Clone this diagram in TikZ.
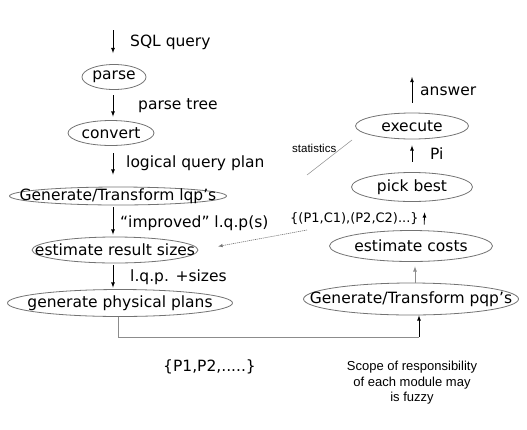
\documentclass[tikz,border=0pt]{standalone}
\usepackage{fontspec}
\setmainfont{DejaVu Sans}
\newfontfamily\notefont{Liberation Sans}
\usetikzlibrary{positioning}
\usetikzlibrary{shapes.geometric}
\usetikzlibrary{arrows}

\begin{document}
\begin{tikzpicture}[x=1pt, y=-1pt,
    stage/.style={
        ellipse, draw=black!55,
        line width=0.8pt,
        inner sep=0pt
    },
    stage text/.style={inner sep=0pt, font=\fontsize{15.5}{18}\selectfont},
    caption/.style={anchor=west, inner sep=0pt, font=\fontsize{15.5}{18}\selectfont},
    flow/.style={-latex, line width=0.8pt},
    feed/.style={black!45, line width=0.8pt},
    hint/.style={-latex, black!55, line width=0.6pt, dash pattern=on 1.2pt off 0.8pt}
]
\useasboundingbox (0,0) rectangle (527,429);

\coordinate (spine) at (113,0);

% left column
\node[stage, minimum width=64pt, minimum height=25pt, label={[stage text]center:parse}] (parse) at (114,77) {};
\node[stage, minimum width=86pt, minimum height=25pt, label={[stage text]center:convert}] (convert) at (111,133) {};
\node[stage, minimum width=217pt, minimum height=18pt, label={[stage text]center:Generate/Transform lqp's}] (genlqp) at (118,196) {};
\node[stage, minimum width=166pt, minimum height=26pt, label={[stage text]center:estimate result sizes}] (estsize) at (115,250) {};
\node[stage, minimum width=225pt, minimum height=27pt, label={[stage text]center:generate physical plans}] (genplan) at (120,303) {};

% right column
\node[stage, minimum width=215pt, minimum height=32pt, label={[stage text]center:Generate/Transform pqp's}] (genpqp) at (411,299) {};
\node[stage, minimum width=163pt, minimum height=31pt, label={[stage text]center:estimate costs}] (estcost) at (411,246) {};
\node[stage, minimum width=121pt, minimum height=29pt, label={[stage text]center:pick best}] (pick) at (412,187) {};
\node[stage, minimum width=113pt, minimum height=26pt, label={[stage text]center:execute}] (execute) at (412,126) {};

% labels
\node[caption] (sqlq) at (130,42) {SQL query};
\node[caption] (ptree) at (138,106) {parse tree};
\node[caption] (lqplan) at (126,163) {logical query plan};
\node[caption] (improved) at (120,223) {``improved'' l.q.p(s)};
\node[caption] (sizes) at (130,277) {l.q.p. +sizes};
\node[caption] (plans) at (163,367) {\{P1,P2,.....\}};
\node[caption, font=\fontsize{13}{15}\selectfont] (pairs) at (290,219) {\{(P1,C1),(P2,C2)...\}};
\node[caption] (pi) at (430,154) {Pi};
\node[caption] (answer) at (420,91) {answer};
\node[caption, font=\notefont\fontsize{11.5}{13}\selectfont] (stats) at (292,148) {statistics};
\node[align=center, inner sep=0pt, font=\notefont\fontsize{13}{15.5}\selectfont] (scope) at (412,383)
    {Scope of responsibility\\of each module may\\is fuzzy};

\coordinate (sqltop) at (113,30);
\coordinate (answertip) at (412,77);
\coordinate (loopL) at (118,337);
\coordinate (loopR) at (419,337);
\coordinate (costtail) at (307,230);
\coordinate (statA) at (352,140);
\coordinate (statB) at (307,175);

% left flow
\draw[flow, shorten >=11pt] (sqltop) -- (parse.north -| sqltop);
\draw[flow, shorten <=5.5pt, shorten >=3.5pt] (parse.south -| spine) -- (convert.north -| spine);
\draw[flow, shorten <=7.5pt, shorten >=12pt] (convert.south -| spine) -- (genlqp.north -| spine);
\draw[flow, shorten <=2pt, shorten >=2pt] (genlqp.south -| spine) -- (estsize.north -| spine);
\draw[flow, shorten <=2pt, shorten >=1.5pt] (estsize.south -| spine) -- (genplan.north -| spine);

% bottom loop
\draw[feed] (genplan.south -| loopL) -- (loopL) -- (loopR);
\draw[flow] (loopR) -- (genpqp.south -| loopR);

% right flow
\draw[feed, -latex, shorten >=4.5pt] ([xshift=4pt]genpqp.north) -- ([xshift=4pt]estcost.south);
\draw[flow, shorten <=5.5pt, shorten >=10.5pt] ([xshift=13pt]estcost.north) -- ([xshift=13pt]pick.south);
\draw[flow, shorten <=10.5pt, shorten >=6pt] (pick.north) -- (execute.south);
\draw[flow, shorten <=10pt] (execute.north) -- (answertip);

% statistics and costs back to sizes
\draw[feed, line width=0.5pt] (statA) -- (statB);
\draw[hint, shorten >=20pt] (costtail) -- (estsize.east);

\end{tikzpicture}
\end{document}
